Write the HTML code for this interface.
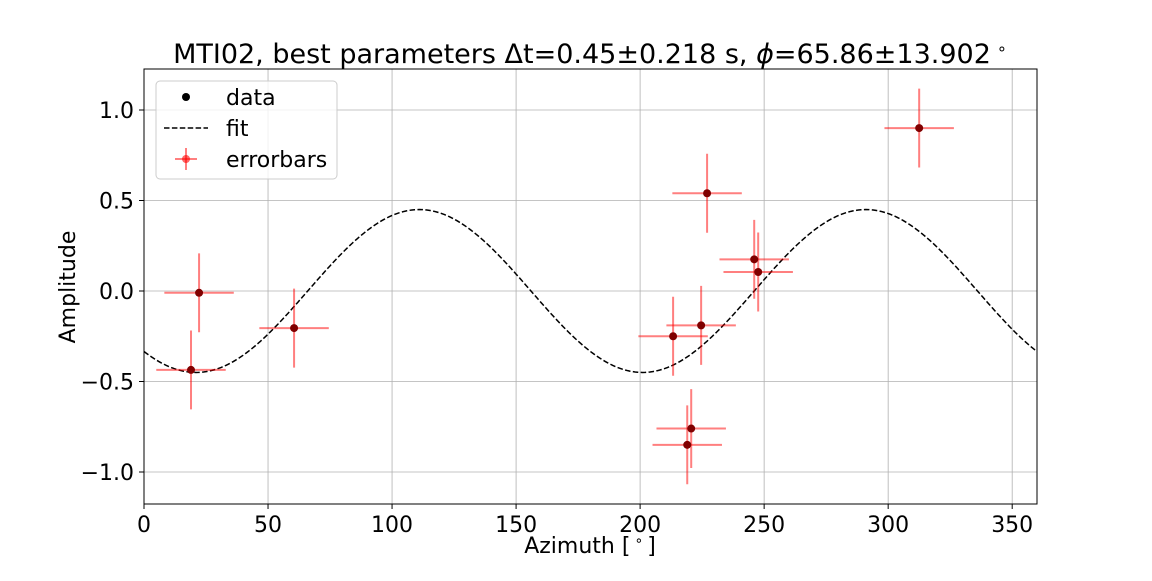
<!DOCTYPE html>
<html><head><meta charset="utf-8"><style>
body{margin:0;background:#fff;}
svg text{font-family:"DejaVu Sans","Liberation Sans",sans-serif;}
</style></head><body>
<svg id="c" width="1152" height="576" xmlns="http://www.w3.org/2000/svg"></svg>
<script>
const xs=[18.95,22.2,60.5,213.3,224.6,227,219,220.6,246,247.6,312.5];
const ys=[-0.436,-0.01,-0.205,-0.25,-0.19,0.54,-0.85,-0.76,0.175,0.105,0.90];
const xErr=[14,14,14,14,14,14,14,14,14,14,14];
const yErr=[0.218,0.218,0.218,0.218,0.218,0.218,0.218,0.218,0.218,0.218,0.218];
const xTicks=[0,50,100,150,200,250,300,350];
const yTicks=[-1.0,-0.5,0.0,0.5,1.0];
const fitAmp=0.45, fitPhase=111;
const L=144,R=1037,T=69,B=504;
const X=v=>L+(v/360)*(R-L);
const Y=v=>291-v*181;
const svg=document.getElementById('c');
const NS='http://www.w3.org/2000/svg';
function el(t,a,p){const e=document.createElementNS(NS,t);for(const k in a)e.setAttribute(k,a[k]);(p||svg).appendChild(e);return e;}
const g=el('g',{});


xTicks.forEach(v=>{el('line',{x1:X(v),x2:X(v),y1:T,y2:B,stroke:'#b0b0b0','stroke-width':0.8},g);});
yTicks.forEach(v=>{el('line',{x1:L,x2:R,y1:Y(v),y2:Y(v),stroke:'#b0b0b0','stroke-width':0.8},g);});
let d='';for(let i=0;i<=360;i++){d+=(i?'L':'M')+X(i).toFixed(2)+','+Y(fitAmp*Math.cos(2*(i-fitPhase)*Math.PI/180)).toFixed(2);}
const fit=el('path',{d:d,fill:'none',stroke:'#000','stroke-width':1.5,'stroke-dasharray':'5.5,2.4'});


xs.forEach((x,i)=>{
 const e=el('g',{stroke:'#ff0000','stroke-opacity':0.5,'stroke-width':2});
 
 
 el('line',{x1:X(x-xErr[i]),x2:X(x+xErr[i]),y1:Y(ys[i]),y2:Y(ys[i])},e);
 el('line',{x1:X(x),x2:X(x),y1:Y(ys[i]-yErr[i]),y2:Y(ys[i]+yErr[i])},e);
});
xs.forEach((x,i)=>{
 const c=el('circle',{cx:X(x),cy:Y(ys[i]),r:4,fill:'#800000'});
 
 
});
el('rect',{x:L,y:T,width:R-L,height:B-T,fill:'none',stroke:'#000','stroke-width':1});
xTicks.forEach(v=>{el('line',{x1:X(v),x2:X(v),y1:B,y2:B+5,stroke:'#000'});
 const t=el('text',{x:X(v),y:B+28,'font-size':22,'text-anchor':'middle'});t.textContent=v;
 });
yTicks.forEach(v=>{el('line',{x1:L-5,x2:L,y1:Y(v),y2:Y(v),stroke:'#000'});
 const t=el('text',{x:L-10,y:Y(v)+8,'font-size':22,'text-anchor':'end'});t.textContent=(v<0?'\u2212':'')+Math.abs(v).toFixed(1);
 });
let t=el('text',{x:590,y:63,'font-size':27,'text-anchor':'middle'});
t.innerHTML='MTI02, best parameters \u0394t=0.45\u00b10.218 s, <tspan font-style="italic">\u03d5</tspan>=65.86\u00b113.902<tspan dx="6" baseline-shift="super" font-size="16">\u2218</tspan>';

t=el('text',{x:590,y:553,'font-size':22,'text-anchor':'middle'});t.innerHTML='Azimuth [<tspan dx="4" baseline-shift="super" font-size="14">\u2218</tspan><tspan dx="4">]</tspan>';

t=el('text',{x:0,y:0,'font-size':22,'text-anchor':'middle',transform:'translate(75,287) rotate(-90)'});t.textContent='Amplitude';

const lg=el('g',{});

el('rect',{x:156,y:81,width:181,height:98,rx:4,fill:'#fff','fill-opacity':0.8,stroke:'#ccc'},lg);
el('circle',{cx:186,cy:97,r:4,fill:'#000'},lg);
el('line',{x1:164,x2:208,y1:128,y2:128,stroke:'#000','stroke-width':1.5,'stroke-dasharray':'5.5,2.4'},lg);
el('line',{x1:175,x2:197,y1:159,y2:159,stroke:'#ff0000','stroke-opacity':0.5,'stroke-width':2},lg);
el('line',{x1:186,x2:186,y1:148,y2:170,stroke:'#ff0000','stroke-opacity':0.5,'stroke-width':2},lg);
el('circle',{cx:186,cy:159,r:4,fill:'#ff0000','fill-opacity':0.6},lg);
[['data',105],['fit',136],['errorbars',167]].forEach(a=>{const tt=el('text',{x:226,y:a[1],'font-size':22},lg);tt.textContent=a[0];
 });
</script>
</body></html>
